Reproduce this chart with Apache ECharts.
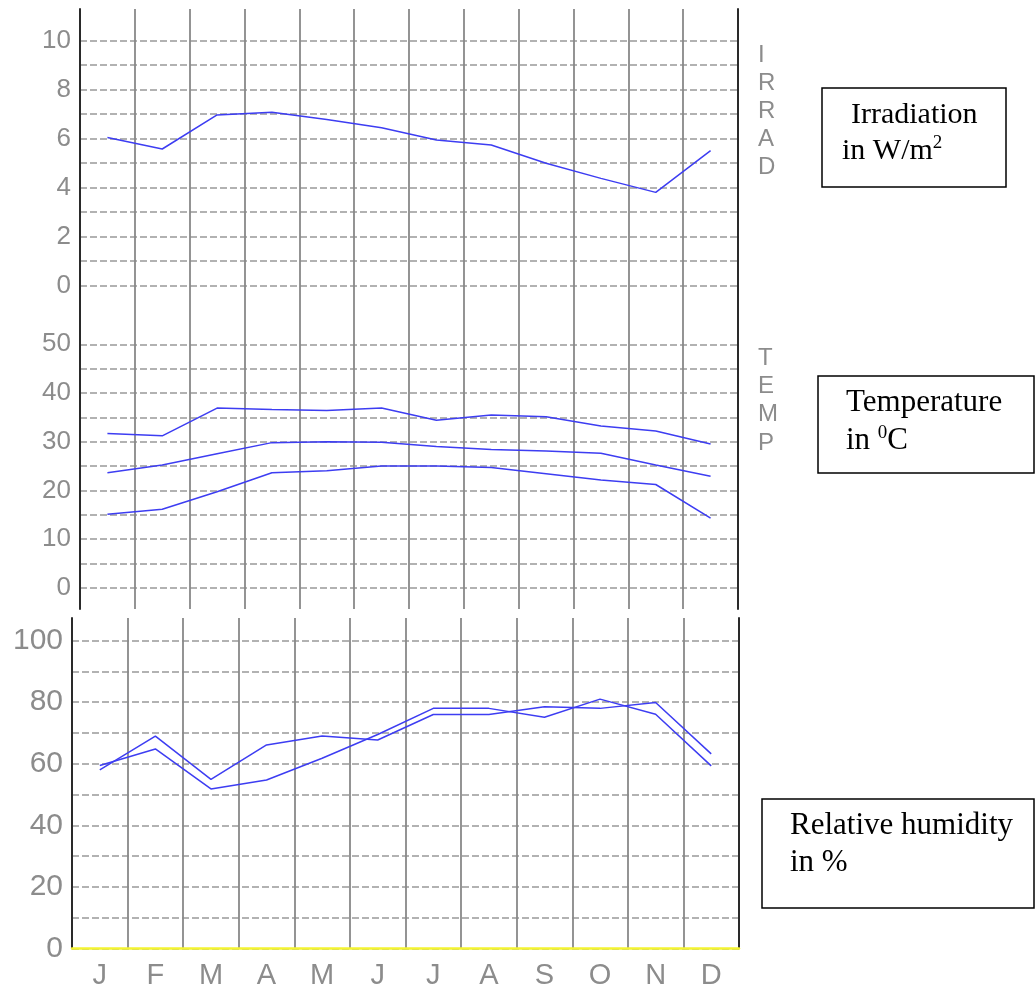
<!DOCTYPE html>
<html>
<head>
<meta charset="utf-8">
<script src="https://cdn.jsdelivr.net/npm/echarts@6/dist/echarts.min.js"></script>
<style>html,body{margin:0;padding:0;background:#fff}#c{width:1036px;height:991px}</style>
</head>
<body>
<div id="c"></div>
<script>
const months = ['J','F','M','A','M','J','J','A','S','O','N','D'];
const irradiation = [6.05, 5.58, 6.97, 7.08, 6.78, 6.45, 5.95, 5.74, 5.0, 4.38, 3.81, 5.51];
const tempMax = [31.7, 31.2, 36.9, 36.6, 36.4, 36.9, 34.4, 35.5, 35.1, 33.2, 32.2, 29.5];
const tempMean = [23.6, 25.2, 27.5, 29.8, 30.0, 29.9, 29.0, 28.4, 28.1, 27.6, 25.2, 22.9];
const tempMin = [15.1, 16.1, 19.7, 23.6, 24.0, 25.0, 25.0, 24.7, 23.4, 22.1, 21.2, 14.3];
const humidity1 = [58.0, 69.0, 54.9, 66.1, 69.0, 67.7, 76.0, 76.0, 78.5, 78.0, 79.9, 63.2];
const humidity2 = [59.4, 64.8, 51.8, 54.7, 61.8, 69.5, 78.0, 78.0, 75.1, 81.0, 76.1, 59.3];

const LBL = '#8c8c8c';
const SANS = 'Liberation Sans';
const SERIF = 'Liberation Serif';
const BLUE = '#3d3df2';
const dashed = {show: true, lineStyle: {color: '#999', width: 1.6, type: [7, 3]}};
const vSplit = {show: true, lineStyle: {color: '#888', width: 1.8}};
const darkLine = {show: true, lineStyle: {color: '#2a2a2a', width: 2}};

const chart = echarts.init(document.getElementById('c'), null, {renderer: 'canvas'});

function hiddenX(gi) {
  return {type: 'category', gridIndex: gi, data: months, boundaryGap: true, show: false};
}
function bgX(gi) {
  return {type: 'category', gridIndex: gi, data: months, boundaryGap: true,
    axisLine: {show: false}, axisTick: {show: false}, axisLabel: {show: false}, splitLine: vSplit};
}
function bgY(gi, pos) {
  return {type: 'value', gridIndex: gi, position: pos, min: 0, max: 1,
    axisLine: darkLine, axisTick: {show: false}, axisLabel: {show: false}, splitLine: {show: false}};
}

const option = {
  animation: false,
  backgroundColor: '#fff',
  grid: [
    {left: 80, right: 298, top: 9, height: 600},
    {left: 80, right: 298, top: 40.7, height: 245},
    {left: 80, right: 298, top: 344.3, height: 243.4},
    {left: 72, right: 297, top: 618, height: 330.3},
    {left: 72, right: 297, top: 640.7, height: 307.6}
  ],
  xAxis: [
    bgX(0), hiddenX(1), hiddenX(2), bgX(3),
    {type: 'category', gridIndex: 4, data: months, boundaryGap: true,
      axisLine: {show: true, lineStyle: {color: '#f4f430', width: 2.5}},
      axisTick: {show: false}, splitLine: {show: false},
      axisLabel: {color: LBL, fontFamily: SANS, fontSize: 29, margin: 13}}
  ],
  yAxis: [
    bgY(0, 'left'), bgY(0, 'right'),
    {type: 'value', gridIndex: 1, min: 0, max: 10, interval: 1,
      axisLine: {show: false}, axisTick: {show: false}, splitLine: dashed,
      axisLabel: {color: LBL, fontFamily: SANS, fontSize: 26, margin: 9,
        formatter: v => (v % 2 === 0 ? String(v) : '')}},
    {type: 'value', gridIndex: 2, min: 0, max: 50, interval: 5,
      axisLine: {show: false}, axisTick: {show: false}, splitLine: dashed,
      axisLabel: {color: LBL, fontFamily: SANS, fontSize: 26, margin: 9,
        formatter: v => (v % 10 === 0 ? String(v) : '')}},
    bgY(3, 'left'), bgY(3, 'right'),
    {type: 'value', gridIndex: 4, min: 0, max: 100, interval: 10,
      axisLine: {show: false}, axisTick: {show: false}, splitLine: dashed,
      axisLabel: {color: LBL, fontFamily: SANS, fontSize: 30, margin: 9,
        formatter: v => (v % 20 === 0 ? String(v) : '')}}
  ],
  series: [
    {type: 'line', xAxisIndex: 1, yAxisIndex: 2, data: irradiation},
    {type: 'line', xAxisIndex: 2, yAxisIndex: 3, data: tempMax},
    {type: 'line', xAxisIndex: 2, yAxisIndex: 3, data: tempMean},
    {type: 'line', xAxisIndex: 2, yAxisIndex: 3, data: tempMin},
    {type: 'line', xAxisIndex: 4, yAxisIndex: 6, data: humidity1},
    {type: 'line', xAxisIndex: 4, yAxisIndex: 6, data: humidity2}
  ].map(s => Object.assign(s, {showSymbol: false, symbol: 'none', silent: true, z: 5,
    lineStyle: {color: BLUE, width: 1.5}})),
  graphic: [
    {type: 'text', left: 770 - 12, top: 41, style: {text: 'I\nR\nR\nA\nD', fill: LBL, font: '24px "Liberation Sans"', lineHeight: 28, align: 'center', width: 24}},
    {type: 'text', left: 770 - 12, top: 344, style: {text: 'T\nE\nM\nP', fill: LBL, font: '24px "Liberation Sans"', lineHeight: 28.3, align: 'center', width: 24}},
    {type: 'rect', shape: {x: 822, y: 88, width: 184, height: 99}, style: {fill: 'none', stroke: '#000', lineWidth: 1.5}},
    {type: 'rect', shape: {x: 818, y: 376, width: 216, height: 97}, style: {fill: 'none', stroke: '#000', lineWidth: 1.5}},
    {type: 'rect', shape: {x: 762, y: 799, width: 272, height: 109}, style: {fill: 'none', stroke: '#000', lineWidth: 1.5}},
    {type: 'text', x: 851, y: 115, style: {text: 'Irradiation', fill: '#000', font: '30px "Liberation Serif"', verticalAlign: 'middle'}},
    {type: 'text', x: 842, y: 150, style: {text: '{a|in W/m}{s|2}', fill: '#000', verticalAlign: 'middle',
      rich: {a: {fontSize: 30, fontFamily: SERIF, fill: '#000', lineHeight: 32, verticalAlign: 'bottom'},
             s: {fontSize: 19, fontFamily: SERIF, fill: '#000', lineHeight: 32, verticalAlign: 'top'}}}},
    {type: 'text', x: 846, y: 403, style: {text: 'Temperature', fill: '#000', font: '31px "Liberation Serif"', verticalAlign: 'middle'}},
    {type: 'text', x: 846, y: 440, style: {text: '{a|in }{s|0}{a|C}', fill: '#000', verticalAlign: 'middle',
      rich: {a: {fontSize: 31, fontFamily: SERIF, fill: '#000', lineHeight: 32, verticalAlign: 'bottom'},
             s: {fontSize: 19, fontFamily: SERIF, fill: '#000', lineHeight: 32, verticalAlign: 'top'}}}},
    {type: 'text', x: 790, y: 826, style: {text: 'Relative humidity', fill: '#000', font: '31px "Liberation Serif"', verticalAlign: 'middle'}},
    {type: 'text', x: 790, y: 863, style: {text: 'in %', fill: '#000', font: '31px "Liberation Serif"', verticalAlign: 'middle'}}
  ]
};
chart.setOption(option);
</script>
</body>
</html>
